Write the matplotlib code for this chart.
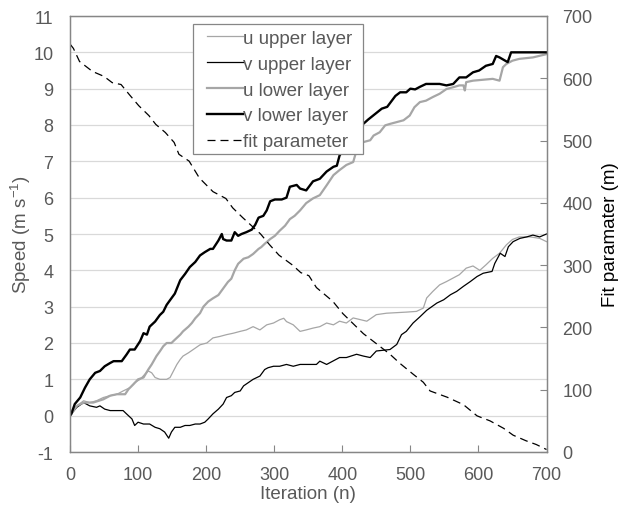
import matplotlib
matplotlib.use("Agg")
import matplotlib.pyplot as plt
from matplotlib.patches import Rectangle

plt.rcParams['font.family'] = ['Liberation Sans', 'DejaVu Sans']
plt.rcParams['mathtext.fontset'] = 'custom'
plt.rcParams['mathtext.rm'] = 'Liberation Sans'
plt.rcParams['axes.unicode_minus'] = False

# ---- data ----
n_v_lower = [0, 2, 7, 15, 22, 29, 37, 44, 51, 59, 64, 76, 83, 88, 95, 103, 108, 113, 117, 125, 132, 137, 142, 147, 154,
             162, 169, 176, 184, 191, 198, 206, 210, 218, 223, 225, 230, 237, 242, 247, 252, 259, 267, 272, 277, 284,
             289, 294, 301, 311, 318, 323, 333, 338, 347, 357, 367, 377, 387, 392, 396, 401, 411, 421, 429, 438, 448,
             458, 466, 470, 478, 485, 494, 500, 507, 514, 523, 543, 553, 563, 572, 582, 592, 601, 611, 621, 626, 631,
             643, 648, 700]
v_lower = [0.0, 0.05, 0.32, 0.5, 0.77, 1.0, 1.18, 1.23, 1.36, 1.45, 1.5, 1.5, 1.68, 1.82, 1.82, 2.05, 2.27, 2.23, 2.45,
           2.59, 2.77, 2.86, 3.05, 3.18, 3.36, 3.73, 3.9, 4.09, 4.23, 4.41, 4.5, 4.59, 4.59, 4.82, 5.0, 4.86, 4.82,
           4.82, 5.05, 4.95, 5.0, 5.05, 5.12, 5.25, 5.45, 5.5, 5.65, 5.9, 5.95, 5.95, 6.0, 6.3, 6.35, 6.25, 6.2, 6.45,
           6.52, 6.72, 6.85, 6.88, 7.16, 7.3, 7.6, 7.8, 8.0, 8.15, 8.3, 8.45, 8.5, 8.6, 8.8, 8.9, 8.9, 9.0, 8.98, 9.05,
           9.13, 9.13, 9.09, 9.13, 9.31, 9.31, 9.45, 9.5, 9.63, 9.68, 9.9, 9.86, 9.73, 10.0, 10.0]

n_u_lower = [0, 2, 10, 20, 34, 49, 59, 69, 81, 86, 93, 100, 108, 115, 120, 127, 132, 137, 142, 149, 154, 162, 166, 174,
             179, 184, 191, 196, 203, 210, 218, 225, 232, 237, 242, 247, 255, 262, 269, 277, 281, 286, 294, 301, 308,
             316, 323, 330, 338, 347, 357, 367, 377, 387, 396, 406, 416, 421, 426, 431, 441, 446, 455, 463, 470, 480,
             490, 499, 506, 514, 523, 533, 543, 553, 563, 572, 578, 580, 582, 592, 621, 631, 636, 641, 650, 660, 680,
             700]
u_lower = [0.0, 0.05, 0.27, 0.36, 0.36, 0.45, 0.55, 0.59, 0.59, 0.73, 0.86, 1.0, 1.05, 1.27, 1.41, 1.64, 1.77, 1.91,
           2.0, 2.0, 2.09, 2.23, 2.32, 2.45, 2.55, 2.68, 2.82, 3.0, 3.14, 3.23, 3.32, 3.5, 3.68, 3.77, 4.0, 4.18, 4.32,
           4.36, 4.45, 4.59, 4.64, 4.73, 4.86, 4.95, 5.09, 5.23, 5.41, 5.5, 5.65, 5.85, 5.98, 6.07, 6.34, 6.62, 6.76,
           6.9, 6.98, 7.3, 7.44, 7.53, 7.58, 7.71, 7.8, 7.99, 8.03, 8.08, 8.13, 8.26, 8.49, 8.63, 8.67, 8.77, 8.86,
           8.99, 9.04, 9.09, 9.09, 8.95, 9.18, 9.22, 9.27, 9.22, 9.59, 9.68, 9.77, 9.82, 9.86, 9.95]

n_u_upper = [0, 2, 10, 20, 29, 39, 49, 59, 69, 78, 88, 95, 103, 110, 115, 120, 125, 132, 142, 147, 152, 157, 162, 166,
             174, 181, 191, 201, 210, 220, 230, 240, 250, 259, 269, 279, 289, 299, 308, 314, 318, 328, 338, 347, 357,
             367, 377, 387, 396, 406, 416, 436, 450, 465, 494, 509, 519, 524, 533, 543, 553, 563, 572, 582, 592, 602,
             611, 621, 631, 641, 650, 660, 676, 690, 700]
u_upper = [0.05, 0.14, 0.27, 0.41, 0.36, 0.41, 0.5, 0.55, 0.59, 0.68, 0.77, 0.91, 1.0, 1.14, 1.23, 1.18, 1.05, 1.0,
           1.0, 1.05, 1.23, 1.41, 1.55, 1.64, 1.73, 1.82, 1.95, 2.0, 2.14, 2.18, 2.23, 2.27, 2.32, 2.36, 2.45, 2.36,
           2.5, 2.55, 2.64, 2.68, 2.59, 2.5, 2.32, 2.36, 2.41, 2.45, 2.55, 2.5, 2.6, 2.55, 2.69, 2.6, 2.78, 2.82, 2.85,
           2.87, 2.96, 3.24, 3.42, 3.6, 3.69, 3.79, 3.88, 4.06, 4.12, 4.0, 4.15, 4.33, 4.47, 4.7, 4.85, 4.92, 4.92,
           4.88, 4.79]

n_v_upper = [0, 2, 10, 20, 29, 39, 44, 51, 59, 78, 83, 91, 95, 100, 108, 117, 125, 132, 139, 145, 149, 154, 162, 169,
             176, 184, 191, 198, 203, 210, 218, 225, 230, 237, 242, 250, 255, 262, 269, 279, 286, 291, 299, 308, 318,
             328, 338, 362, 367, 377, 396, 406, 421, 431, 441, 450, 470, 480, 487, 494, 504, 514, 524, 539, 549, 559,
             568, 578, 588, 598, 607, 620, 624, 632, 639, 644, 651, 661, 671, 680, 690, 700]
v_upper = [0.0, 0.05, 0.23, 0.36, 0.27, 0.23, 0.27, 0.18, 0.14, 0.14, 0.05, -0.09, -0.27, -0.18, -0.23, -0.23, -0.32,
           -0.36, -0.45, -0.62, -0.45, -0.32, -0.32, -0.27, -0.27, -0.23, -0.23, -0.18, -0.09, 0.05, 0.18, 0.32, 0.5,
           0.55, 0.64, 0.68, 0.82, 0.91, 1.0, 1.09, 1.27, 1.32, 1.36, 1.36, 1.41, 1.36, 1.41, 1.41, 1.5, 1.41, 1.6,
           1.6, 1.69, 1.64, 1.6, 1.78, 1.82, 1.96, 2.23, 2.32, 2.55, 2.72, 2.9, 3.1, 3.19, 3.33, 3.42, 3.56, 3.69,
           3.83, 3.92, 3.97, 4.19, 4.47, 4.38, 4.65, 4.79, 4.88, 4.92, 4.97, 4.92, 5.0]

n_fit = [0, 5, 14, 33, 50, 62, 75, 87, 101, 116, 126, 140, 153, 160, 175, 190, 210, 229, 239, 254, 266, 280, 293, 307,
         327, 339, 351, 362, 386, 401, 416, 431, 450, 470, 485, 504, 519, 529, 554, 578, 598, 617, 637, 651, 670, 685,
         700]
fit = [655, 648, 627, 611, 603, 593, 590, 574, 556, 540, 526, 513, 497, 478, 467, 440, 418, 407, 392, 376, 364, 350,
       333, 316, 300, 288, 283, 264, 242, 222, 206, 190, 174, 157, 142, 125, 112, 98, 88, 76, 58, 50, 38, 27, 18, 12, 4]

labels = ["u upper layer", "v upper layer", "u lower layer", "v lower layer", "fit parameter"]

# ---- styling ----
text_c = '#595959'
spine_c = '#868686'
grid_c = '#d9d9d9'
gray_line = '#a6a6a6'
W, H = 622, 506

fig = plt.figure(figsize=(6.22, 5.06), dpi=100)
ax = fig.add_axes([70/W, 1-453/H, (546.5-70)/W, (453-17)/H])
ax2 = ax.twinx()

l1, = ax.plot(n_u_upper, u_upper, color=gray_line, lw=0.9, label=labels[0])
l2, = ax.plot(n_v_upper, v_upper, color='black', lw=0.9, label=labels[1])
l3, = ax.plot(n_u_lower, u_lower, color=gray_line, lw=1.6, label=labels[2])
l4, = ax.plot(n_v_lower, v_lower, color='black', lw=1.7, label=labels[3])
l5, = ax2.plot(n_fit, fit, color='black', lw=0.9, ls=(0, (6.4, 4)), label=labels[4])

ax.set_xlim(0, 700)
ax.set_ylim(-1, 11)
ax2.set_ylim(0, 700)
ax.set_xticks(range(0, 701, 100))
ax.set_yticks(range(-1, 12))
ax2.set_yticks(range(0, 701, 100))

ax.yaxis.grid(True, color=grid_c, lw=0.9)
ax.set_axisbelow(True)

for a in (ax, ax2):
    for s in a.spines.values():
        s.set_color(spine_c)
        s.set_linewidth(0.9)

ax.tick_params(axis='x', direction='in', length=5, color=spine_c, labelcolor=text_c, labelsize=13, pad=10)
ax.tick_params(axis='y', direction='in', length=0, color=spine_c, labelcolor=text_c, labelsize=13, pad=12)
ax2.tick_params(axis='y', direction='in', length=5, color=spine_c, labelcolor=text_c, labelsize=13, pad=11.5)

ax.set_xlabel("Iteration (n)", color=text_c, fontsize=13.5)
ax.xaxis.set_label_coords(0.5, (453 - 486) / 436)
ax.set_ylabel("Speed (m s$^{\\mathregular{-1}}$)", color=text_c, fontsize=13.5)
ax.yaxis.set_label_coords((33 - 70) / 476.5, 0.5)
ax2.set_ylabel("Fit paramater (m)", color='black', fontsize=13.5)
ax2.yaxis.set_label_coords((602 - 70) / 476.5, 0.5)

# legend frame (opaque box, above the lines)
frame = Rectangle((193/W, 1-155/H), (363-193)/W, (155-25)/H, transform=fig.transFigure,
                  facecolor='white', edgecolor=spine_c, linewidth=0.9, zorder=4)
fig.patches.append(frame)

leg = fig.legend(handles=[l1, l2, l3, l4, l5], loc='upper left', bbox_to_anchor=(207/W, 1-30.5/H),
                 fontsize=13.5, frameon=False, handlelength=1.92, handletextpad=0.02,
                 labelspacing=0.47, borderpad=0, borderaxespad=0)
leg.set_zorder(5)
for t in leg.get_texts():
    t.set_color(text_c)

fig.savefig("out.png", dpi=100)
